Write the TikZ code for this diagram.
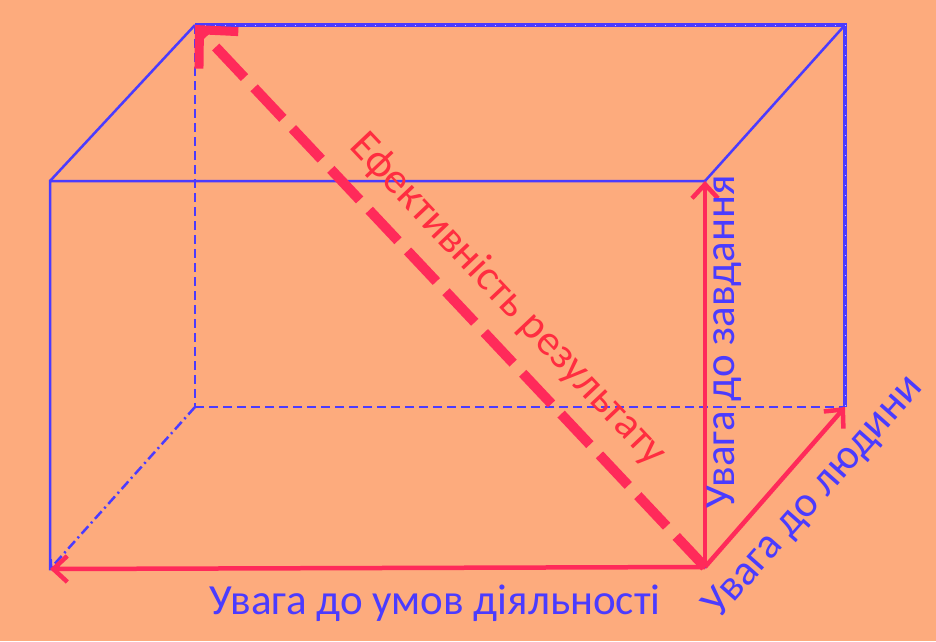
\documentclass[tikz,border=0pt]{standalone}
\usepackage{fontspec}
\setmainfont{Carlito}
\usetikzlibrary{arrows.meta}

\definecolor{bgOrange}{HTML}{FDAB7D}
\definecolor{edgeBlue}{HTML}{4B3BFF}
\definecolor{arrRed}{HTML}{FF2A5A}
\definecolor{txtRed}{HTML}{FF2D40}

\tikzset{
  edge/.style={draw=edgeBlue, line width=2.5pt},
  hidden/.style={draw=edgeBlue, line width=2.5pt, dash pattern=on 9pt off 5pt},
  hiddendot/.style={draw=edgeBlue, line width=2.5pt, dash pattern=on 10pt off 4pt on 2pt off 4pt},
  axis/.style={draw=arrRed, line width=4.5pt, -{Straight Barb[length=14pt,width=26pt,line width=4.5pt]}},
  result/.style={draw=arrRed, line width=10pt, dash pattern=on 42pt off 14pt,
    -{Straight Barb[length=28pt,width=54pt,line width=9pt]}},
  lbl/.style={font=\fontsize{43}{45}\selectfont, text=edgeBlue, inner sep=0pt}
}

\begin{document}
\begin{tikzpicture}[x=1pt,y=-1pt]

\def\boxL{50}
\def\boxR{705}
\def\boxT{181}
\def\boxB{567}
\def\depY{158}

\useasboundingbox[fill=bgOrange] (0,0) rectangle (936,641);

% front face
\coordinate (ftl) at (\boxL,\boxT);
\coordinate (ftr) at (\boxR,\boxT);
\coordinate (fbr) at (\boxR,\boxB);
\coordinate (fbl) at (\boxL,\boxB+2);
% back face
\coordinate (btl) at (\boxL+145,\boxT-\depY+2);
\coordinate (btr) at (\boxR+140,\boxT-\depY+2);
\coordinate (bbr) at (\boxR+140,\boxB-\depY-2);
\coordinate (bbl) at (\boxL+145,\boxB-\depY-2);

% hidden edges
\draw[hidden] (btl) -- (bbl);
\draw[hidden] (bbl) -- (bbr);
\draw[hiddendot, -{Straight Barb[length=6pt,width=12pt]}] (bbl) -- (fbl);

% visible edges
\draw[edge] (ftl) -- (ftr) -- (fbr) -- (fbl) -- cycle;
\draw[edge] (ftl) -- (btl);
\draw[edge] (ftr) -- (btr);
\draw[edge, line width=3.5pt] (btl) -- (btr) -- (bbr);
\draw[white!70!edgeBlue, line width=1pt, dash pattern=on 1pt off 9pt] (btl) -- (btr) -- (bbr);

% attention axes
\draw[axis] (fbr) -- (fbl);
\draw[axis] (fbr) -- (ftr);
\draw[axis] (fbr) -- (bbr);
\draw[result] (fbr) -- (btl);

% labels
\node[lbl] (condLbl) at (435,603) {Увага до умов діяльності};
\node[lbl, rotate=90] (taskLbl) at (724,342) {Увага до завдання};
\node[lbl, rotate=48.5] (humanLbl) at (814,497) {Увага до людини};
\node[lbl, text=txtRed, rotate=-46.6] (resLbl) at (508,300) {Ефективність результату};

\end{tikzpicture}
\end{document}
